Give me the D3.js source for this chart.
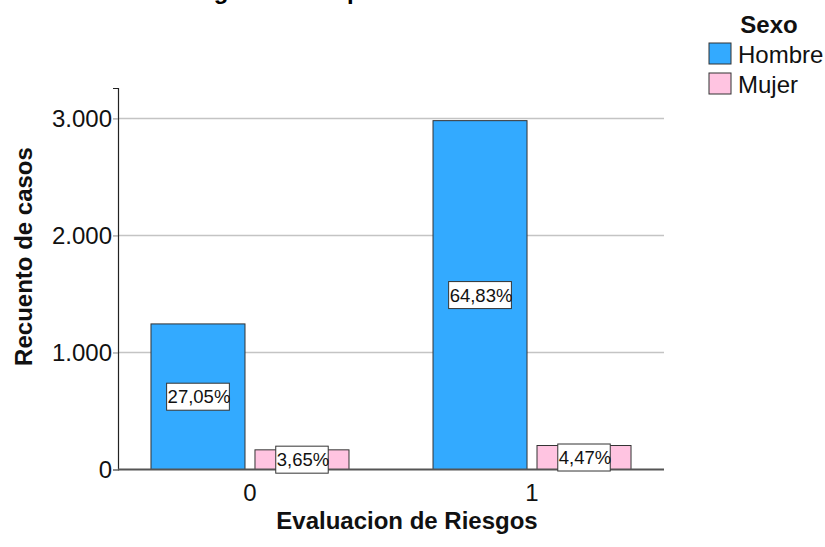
<!DOCTYPE html>
<html lang="es">
<head>
  <meta charset="UTF-8" />
  <title>Evaluacion de Riesgos por Sexo</title>
  <style>
    body {
      margin: 0;
      background-color: white;
      font-family: Arial, 'Liberation Sans', sans-serif;
    }
    svg {
      display: block;
    }
    .label-box {
      fill: white;
      stroke: #333;
      stroke-width: 1;
    }
  </style>
  <script src="https://d3js.org/d3.v7.min.js"></script>
</head>
<body>
  <div id="chart"></div>

  <script>
    // data
    const categories = ["0", "1"];
    const sexes = ["Hombre", "Mujer"];
    const hombreCounts = [1244, 2981];
    const mujerCounts = [168, 205];
    const hombreLabels = ["27,05%", "64,83%"];
    const mujerLabels = ["3,65%", "4,47%"];
    const yTicks = [0, 1000, 2000, 3000];

    const colors = { Hombre: "#33aaff", Mujer: "#ffc4e1" };

    const width = 825;
    const height = 547;
    const margin = { top: 88, right: 161, bottom: 77.5, left: 118 };
    const innerW = width - margin.left - margin.right;
    const innerH = height - margin.top - margin.bottom;

    const rows = [];
    categories.forEach((c, i) => {
      rows.push({ cat: c, sex: "Hombre", value: hombreCounts[i], label: hombreLabels[i] });
      rows.push({ cat: c, sex: "Mujer", value: mujerCounts[i], label: mujerLabels[i] });
    });

    const svg = d3.select("#chart")
      .append("svg")
      .attr("width", width)
      .attr("height", height);

    // title sits mostly above the visible area
    svg.append("text")
      .attr("x", 163)
      .attr("y", -1)
      .attr("font-size", 24)
      .attr("font-weight", "bold")
      .attr("fill", "#000")
      .text("Riesgos del Grupo");

    const g = svg.append("g")
      .attr("transform", `translate(${margin.left},${margin.top})`);

    const y = d3.scaleLinear()
      .domain([0, 3260])
      .range([innerH, 0]);

    const x = d3.scalePoint()
      .domain(categories)
      .range([0, innerW])
      .padding(0.468);

    const xSex = d3.scaleBand()
      .domain(sexes)
      .range([-99, 99])
      .paddingInner(0.096);

    // gridlines
    g.append("g")
      .selectAll("line")
      .data(yTicks.filter(d => d > 0))
      .enter().append("line")
      .attr("x1", 0)
      .attr("x2", innerW)
      .attr("y1", d => y(d))
      .attr("y2", d => y(d))
      .attr("stroke", "#c4c4c4")
      .attr("stroke-width", 1.5);

    // y axis
    const yAxis = g.append("g")
      .call(d3.axisLeft(y)
        .tickValues(yTicks)
        .tickSize(5)
        .tickPadding(1)
        .tickFormat(d => d3.format(",")(d).replace(/,/g, ".")));
    yAxis.select(".domain").attr("stroke", "#222").attr("stroke-width", 1.2);
    yAxis.selectAll(".tick line").attr("stroke", "#888");
    yAxis.selectAll(".tick text")
      .attr("font-size", 24)
      .attr("font-family", "Arial, 'Liberation Sans', sans-serif")
      .attr("fill", "#111");

    // bars
    g.append("g")
      .selectAll("rect")
      .data(rows)
      .enter().append("rect")
      .attr("x", d => x(d.cat) + xSex(d.sex))
      .attr("y", d => y(d.value))
      .attr("width", xSex.bandwidth())
      .attr("height", d => innerH - y(d.value))
      .attr("fill", d => colors[d.sex])
      .attr("stroke", "#333")
      .attr("stroke-width", 1);

    // x axis line
    g.append("line")
      .attr("x1", 0)
      .attr("x2", innerW)
      .attr("y1", innerH)
      .attr("y2", innerH)
      .attr("stroke", "#555")
      .attr("stroke-width", 2);

    // x tick labels
    g.append("g")
      .selectAll("text")
      .data(categories)
      .enter().append("text")
      .attr("x", d => x(d))
      .attr("y", innerH + 31)
      .attr("text-anchor", "middle")
      .attr("font-size", 24)
      .attr("fill", "#111")
      .text(d => d);

    // percentage labels in white boxes
    const labels = g.append("g")
      .selectAll("g")
      .data(rows)
      .enter().append("g")
      .attr("transform", d => {
        const cx = x(d.cat) + xSex(d.sex) + xSex.bandwidth() / 2;
        const cy = (y(d.value) + innerH) / 2;
        return `translate(${cx},${cy})`;
      });

    const rects = labels.append("rect").attr("class", "label-box");
    const texts = labels.append("text")
      .attr("font-size", 18.5)
      .attr("fill", "#111")
      .attr("dy", "0.35em")
      .text(d => d.label);

    texts.each(function() {
      const w = this.getComputedTextLength();
      d3.select(this).attr("x", -w / 2 + 1);
      d3.select(this.parentNode).select("rect")
        .attr("x", -w / 2)
        .attr("y", -13.5)
        .attr("width", w)
        .attr("height", 27);
    });

    // axis titles
    svg.append("text")
      .attr("transform", `translate(32,${256.5}) rotate(-90)`)
      .attr("text-anchor", "middle")
      .attr("font-size", 24)
      .attr("font-weight", "bold")
      .attr("fill", "#111")
      .text("Recuento de casos");

    svg.append("text")
      .attr("x", 407)
      .attr("y", 529)
      .attr("text-anchor", "middle")
      .attr("font-size", 24)
      .attr("font-weight", "bold")
      .attr("fill", "#111")
      .text("Evaluacion de Riesgos");

    // legend
    const legend = svg.append("g");
    legend.append("text")
      .attr("x", 769)
      .attr("y", 33)
      .attr("text-anchor", "middle")
      .attr("font-size", 24)
      .attr("font-weight", "bold")
      .attr("fill", "#111")
      .text("Sexo");

    sexes.forEach((s, i) => {
      const item = legend.append("g")
        .attr("transform", `translate(709, ${43 + i * 30})`);
      item.append("rect")
        .attr("width", 22)
        .attr("height", 21)
        .attr("fill", colors[s])
        .attr("stroke", "#333")
        .attr("stroke-width", 1);
      item.append("text")
        .attr("x", 29)
        .attr("y", 20)
        .attr("font-size", 24)
        .attr("fill", "#111")
        .text(s);
    });
  </script>
</body>
</html>
